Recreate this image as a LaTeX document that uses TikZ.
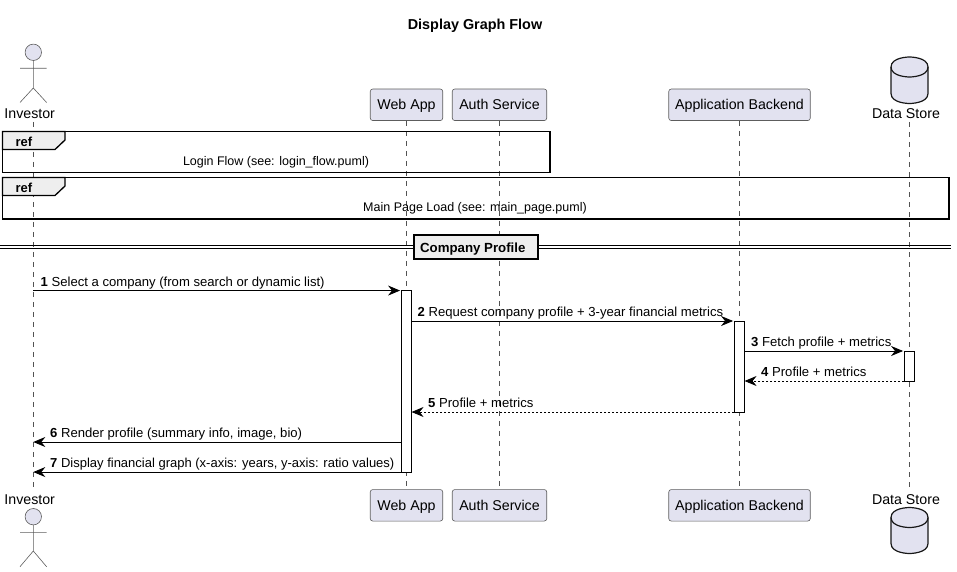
\documentclass[tikz,border=0pt]{standalone}
\usepackage{fontspec}
\setmainfont{Liberation Sans}
\usetikzlibrary{arrows.meta}
\definecolor{partfill}{HTML}{E2E2F0}
\definecolor{partline}{HTML}{181818}
\definecolor{tabfill}{HTML}{EEEEEE}
\tikzset{
  participant/.style={draw=partline!70,line width=0.6pt,fill=partfill,rounded corners=2.5pt,inner sep=0pt,minimum height=31.5pt,text height=10pt,text depth=0pt,font=\fontsize{14.2}{16}\selectfont},
  actorname/.style={inner sep=0pt,text height=10pt,text depth=0pt,font=\fontsize{14.2}{16}\selectfont},
  figure/.style={draw=partline!70,line width=0.6pt},
  drum/.style={draw=partline,line width=1.2pt,fill=partfill},
  lifeline/.style={draw=partline!75,line width=0.5pt,dash pattern=on 5pt off 5pt},
  refbox/.style={draw=black,line width=1.3pt},
  reftab/.style={draw=black,line width=1.3pt,fill=tabfill},
  reflabel/.style={inner sep=0pt,text height=9pt,text depth=0pt,font=\fontsize{13}{14}\selectfont\bfseries},
  reftext/.style={inner sep=0pt,text height=9pt,text depth=2pt,font=\fontsize{12.5}{13}\selectfont},
  divider/.style={draw=black,line width=1pt},
  dividerbox/.style={draw=black,line width=2pt,fill=tabfill,inner sep=0pt,minimum width=124pt,minimum height=24.5pt,text height=10pt,text depth=0pt},
  dividertext/.style={inner sep=0pt,text height=10pt,text depth=0pt,font=\fontsize{13.25}{14}\selectfont\bfseries},
  barbox/.style={draw=black,line width=0.8pt,fill=white,inner sep=0pt,outer sep=0pt,minimum width=10.5pt},
  msg/.style={draw=black,line width=0.8pt,-{Stealth[length=12pt,width=10pt,inset=4pt]}},
  msgback/.style={msg,dash pattern=on 2pt off 2pt},
  msglabel/.style={anchor=base west,inner sep=0pt,font=\fontsize{13.1}{14}\selectfont},
}
\begin{document}
\begin{tikzpicture}[x=1pt,y=-1pt]
  \useasboundingbox (0,0) rectangle (957,572);
  \node [inner sep=0pt,font=\fontsize{14.4}{16}\selectfont\bfseries] (title) at (475,26) {Display Graph Flow};

  % top row
  \draw [figure,fill=partfill] (33.3,52.3) circle (8.2);
  \draw [figure] (33.3,60.5) -- (33.3,88) -- (20,102.5) (33.3,88) -- (46.6,102.5) (20,68.3) -- (46.6,68.3);
  \node [actorname] (investortop) at (29.7,113.5) {Investor};
  \node [participant,minimum width=72.5pt] (webtop) at (406.5,104.8) {Web App};
  \node [participant,minimum width=94.5pt] (authtop) at (499.5,104.8) {Auth Service};
  \node [participant,minimum width=141.5pt] (backendtop) at (739.5,104.8) {Application Backend};
  \draw [drum] (891,67) .. controls (891,57) and (909.5,57) .. (909.5,57) .. controls (909.5,57) and (928,57) .. (928,67) -- (928,93.5) .. controls (928,103.5) and (909.5,103.5) .. (909.5,103.5) .. controls (909.5,103.5) and (891,103.5) .. (891,93.5) -- cycle;
  \draw [drum,fill=none] (891,67) .. controls (891,77) and (909.5,77) .. (909.5,77) .. controls (909.5,77) and (928,77) .. (928,67);
  \node [actorname] (storetop) at (906,113.5) {Data Store};

  % bottom row
  \node [actorname] (investorbottom) at (29.7,499.5) {Investor};
  \draw [figure,fill=partfill] (33.3,516.7) circle (8.2);
  \draw [figure] (33.3,524.9) -- (33.3,551) -- (20,566.7) (33.3,551) -- (46.6,566.7) (20,532.3) -- (46.6,532.3);
  \node [participant,minimum width=72.5pt] (webbottom) at (406.5,505.3) {Web App};
  \node [participant,minimum width=94.5pt] (authbottom) at (499.5,505.3) {Auth Service};
  \node [participant,minimum width=141.5pt] (backendbottom) at (739.5,505.3) {Application Backend};
  \node [actorname] (storebottom) at (906,499.5) {Data Store};
  \draw [drum] (891,517.5) .. controls (891,507.5) and (909.5,507.5) .. (909.5,507.5) .. controls (909.5,507.5) and (928,507.5) .. (928,517.5) -- (928,543.5) .. controls (928,553.5) and (909.5,553.5) .. (909.5,553.5) .. controls (909.5,553.5) and (891,553.5) .. (891,543.5) -- cycle;
  \draw [drum,fill=none] (891,517.5) .. controls (891,527.5) and (909.5,527.5) .. (909.5,527.5) .. controls (909.5,527.5) and (928,527.5) .. (928,517.5);

  % lifelines
  \coordinate (investorhead) at (33.3,122);
  \coordinate (investorfoot) at (33.3,488);
  \coordinate (storehead) at (909.3,122);
  \coordinate (storefoot) at (909.3,488);
  \draw [lifeline] (investorhead) -- (investorfoot);
  \draw [lifeline] (webtop) -- (webbottom);
  \draw [lifeline] (authtop) -- (authbottom);
  \draw [lifeline] (backendtop) -- (backendbottom);
  \draw [lifeline] (storehead) -- (storefoot);

  % refs
  \draw [refbox] (2.5,131.5) rectangle (550,172.5);
  \draw [reftab] (2.5,131.5) -- (65,131.5) -- (65,140) -- (55,149.5) -- (2.5,149.5) -- cycle;
  \node [reflabel] (loginref) at (24,142.5) {ref};
  \node [reftext] (logintext) at (276,162.3) {Login Flow (see: login\_flow.puml)};
  \draw [refbox] (2.5,177.5) rectangle (949,219);
  \draw [reftab] (2.5,177.5) -- (65,177.5) -- (65,186) -- (55,195.5) -- (2.5,195.5) -- cycle;
  \node [reflabel] (mainref) at (24,188.5) {ref};
  \node [reftext] (maintext) at (475,208.3) {Main Page Load (see: main\_page.puml)};

  % divider
  \draw [divider] (0,245.3) -- (951,245.3);
  \draw [divider] (0,248.3) -- (951,248.3);
  \node [dividerbox] (profile) at (475.8,246.8) {};
  \node [dividertext] (profiletext) at (472.8,247) {Company Profile};

  % activations
  \node [barbox,minimum height=181.5pt] (webbar) at (406.3,381.3) {};
  \node [barbox,minimum height=91pt] (backendbar) at (739.3,366.5) {};
  \node [barbox,minimum height=30pt] (storebar) at (909.3,366) {};

  % messages
  \draw [msg,shorten >=1pt] (webbar.north west -| investorhead) -- (webbar.north west);
  \draw [msg,shorten >=1pt] (webbar.east |- backendbar.north) -- (backendbar.north west);
  \draw [msg,shorten >=1pt] (backendbar.east |- storebar.north) -- (storebar.north west);
  \draw [msgback] (storebar.south west) -- (backendbar.east |- storebar.south);
  \draw [msgback] (backendbar.south west) -- (webbar.east |- backendbar.south);
  \coordinate (render) at (33.3,442);
  \draw [msg] (webbar.west |- render) -- (render);
  \draw [msg] (webbar.south west) -- (webbar.south west -| investorhead);

  \node [msglabel] (select) at (40.5,286) {\textbf{1} Select a company (from search or dynamic list)};
  \node [msglabel] (request) at (417.5,316.5) {\textbf{2} Request company profile + 3-year financial metrics};
  \node [msglabel] (fetch) at (751,346.5) {\textbf{3} Fetch profile + metrics};
  \node [msglabel] (storeback) at (761,376.5) {\textbf{4} Profile + metrics};
  \node [msglabel] (backendback) at (428,407.5) {\textbf{5} Profile + metrics};
  \node [msglabel] (rendertext) at (50,437.5) {\textbf{6} Render profile (summary info, image, bio)};
  \node [msglabel,font=\fontsize{13}{14}\selectfont] (graphtext) at (50,467.5) {\textbf{7} Display financial graph (x-axis: years, y-axis: ratio values)};
\end{tikzpicture}
\end{document}
